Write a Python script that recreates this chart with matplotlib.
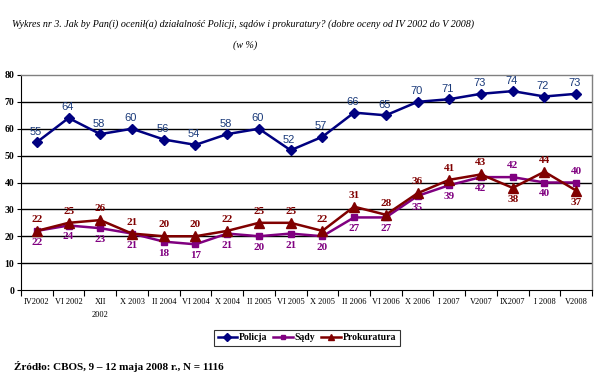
import matplotlib
matplotlib.use("Agg")
import matplotlib.pyplot as plt
import numpy as np

categories = ["IV2002", "VI 2002", "XII\n2002", "X 2003", "II 2004", "VI 2004", "X 2004",
              "II 2005", "VI 2005", "X 2005", "II 2006", "VI 2006", "X 2006", "I 2007",
              "V2007", "IX2007", "I 2008", "V2008"]
policja = [55, 64, 58, 60, 56, 54, 58, 60, 52, 57, 66, 65, 70, 71, 73, 74, 72, 73]
sady = [22, 24, 23, 21, 18, 17, 21, 20, 21, 20, 27, 27, 35, 39, 42, 42, 40, 40]
prokuratura = [22, 25, 26, 21, 20, 20, 22, 25, 25, 22, 31, 28, 36, 41, 43, 38, 44, 37]
yticks = [0, 10, 20, 30, 40, 50, 60, 70, 80]

serif = "Liberation Serif"
sans = "Liberation Sans"

fig = plt.figure(figsize=(6.0, 3.89), dpi=100)
W, H = 600, 389
ax = fig.add_axes([21 / W, 1 - 290 / H, 571 / W, 215 / H])

x = np.arange(len(categories))
ax.set_xlim(-0.5, len(categories) - 0.5)
ax.set_ylim(0, 80)

for y in yticks[1:-1]:
    ax.axhline(y, color="black", lw=1.0, zorder=1)

navy = "#000080"
purple = "#800080"
dred = "#800000"

ax.plot(x, policja, color=navy, lw=1.8, marker="D", ms=5.5, zorder=3, label="Policja")
ax.plot(x, sady, color=purple, lw=1.8, marker="s", ms=4, zorder=3, label="Sądy")
ax.plot(x, prokuratura, color=dred, lw=1.8, marker="^", ms=7, zorder=4, label="Prokuratura")

for xi, v in zip(x, policja):
    ax.annotate(str(v), (xi, v), xytext=(-1, 4), textcoords="offset points",
                ha="center", va="bottom", fontsize=8, color="#1a3a7a", family=sans)
for xi, (s, p) in enumerate(zip(sady, prokuratura)):
    s_up = p < s
    ax.annotate(str(s), (xi, s), xytext=(0, 5 if s_up else -5), textcoords="offset points",
                ha="center", va="bottom" if s_up else "top", fontsize=8, color=purple,
                family=serif, fontweight="bold")
    ax.annotate(str(p), (xi, p), xytext=(0, -5 if s_up else 5), textcoords="offset points",
                ha="center", va="top" if s_up else "bottom", fontsize=8, color=dred,
                family=serif, fontweight="bold")

ax.set_yticks(yticks)
ax.set_yticklabels([str(t) for t in yticks], family=serif, fontweight="bold", fontsize=7)
ax.set_xticks(np.arange(len(categories) + 1) - 0.5, minor=False)
ax.set_xticklabels([])
ax.set_xticks(x, minor=True)
ax.set_xticklabels(categories, minor=True, family=serif, fontsize=6, linespacing=1.8)
ax.tick_params(axis="x", which="major", length=4, width=0.8, direction="out")
ax.tick_params(axis="x", which="minor", length=0, pad=6)
ax.tick_params(axis="y", length=3, width=0.8, pad=2)

for s in ["top", "right"]:
    ax.spines[s].set_color("#808080")
    ax.spines[s].set_linewidth(1)
ax.spines["left"].set_color("black")
ax.spines["bottom"].set_color("black")

leg = fig.legend(loc="center", bbox_to_anchor=(307 / W, 1 - 338 / H), ncol=3,
                 prop={"family": serif, "weight": "bold", "size": 7},
                 frameon=True, fancybox=False, edgecolor="black", handlelength=2.0,
                 columnspacing=0.6, handletextpad=0.2, borderpad=0.4, markerscale=0.7)
leg.get_frame().set_linewidth(0.8)

fig.text(12 / W, 1 - 24 / H,
         "Wykres nr 3. Jak by Pan(i) ocenił(a) działalność Policji, sądów i prokuratury? (dobre oceny od IV 2002 do V 2008)",
         ha="left", va="center", family=serif, style="italic", fontsize=7.2)
fig.text(245 / W, 1 - 45 / H, "(w %)", ha="center", va="center", family=serif,
         style="italic", fontsize=7.2)
fig.text(14 / W, 1 - 367 / H, "Źródło: CBOS, 9 – 12 maja 2008 r., N = 1116",
         ha="left", va="center", family=serif, fontweight="bold", fontsize=8)

fig.savefig("out.png", dpi=100, facecolor="white")
